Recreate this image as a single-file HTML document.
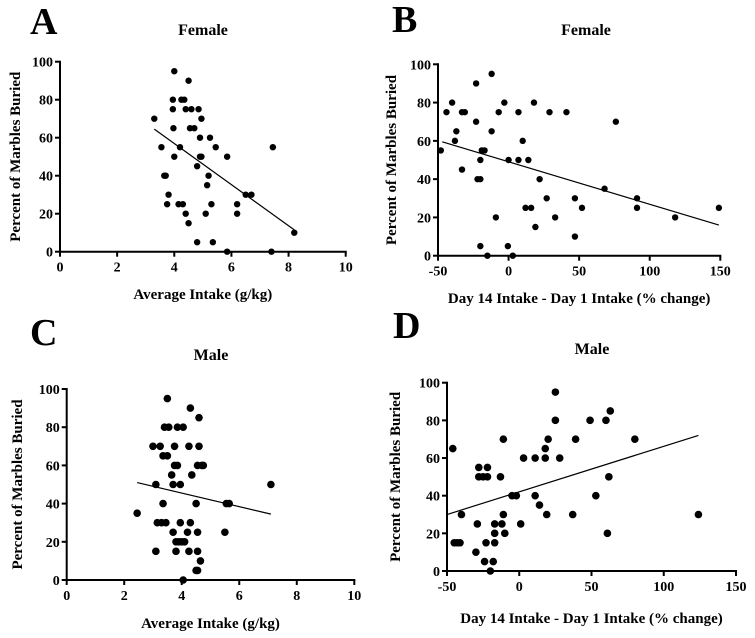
<!DOCTYPE html>
<html><head><meta charset="utf-8"><style>
body{margin:0;background:#fff;}
svg{display:block;font-family:"Liberation Serif",serif;font-weight:bold;}
</style></head><body>
<svg id="fig" width="755" height="638" viewBox="0 0 755 638" xmlns="http://www.w3.org/2000/svg"></svg>
<script>
const ticksA=[0,2,4,6,8,10], ticksB=[-50,0,50,100,150], ticksY=[0,20,40,60,80,100];
const ticksD=[-50,0,50,100,150];
const aX=[3.3,4.0,4.5,3.95,4.25,4.35,3.95,4.4,4.6,4.85,3.97,4.55,4.7,4.95,3.55,4.2,5.25,4.9,5.45,7.45,4.0,4.9,4.95,5.85,4.8,3.65,3.7,5.2,5.15,3.8,6.5,6.7,3.75,4.15,4.3,5.3,6.2,4.4,5.1,6.2,4.5,4.8,5.35,8.2,5.85,7.4];
const aY=[70,95,90,80,80,80,75,75,75,75,65,65,65,70,55,55,60,60,55,55,50,50,50,50,45,40,40,40,35,30,30,30,25,25,25,25,25,20,20,20,15,5,5,10,0,0];
const aFit=[[3.3,64.5],[8.2,11.5]];
const bX=[-48,-44,-40,-38,-37,-33,-31,-33,-23,-23,-22,-20,-20,-19,-17,-20,-15,-12,-12,-9,-7,-3,0,-0.5,3,7,7,10,12,14,16,18,19,22,27,29,33,41,47,47,52,68,76,91,91,118,149];
const bY=[55,75,80,60,65,75,75,45,90,70,40,40,50,55,55,5,0,95,65,20,75,80,50,5,0,75,50,60,25,50,25,80,15,40,30,75,20,75,30,10,25,35,70,30,25,20,25];
const bFit=[[-47,59.5],[149,16]];
const cX=[2.45,3.1,3.0,3.25,3.1,3.15,3.3,3.45,3.35,3.35,3.5,3.4,3.55,3.5,3.65,3.7,3.75,3.75,3.85,3.95,3.85,4.05,3.7,3.8,3.8,3.9,3.95,4.0,4.1,4.05,4.2,4.25,4.25,4.3,4.35,4.3,4.5,4.5,4.55,4.55,4.55,4.55,4.6,4.6,4.65,4.7,4.75,5.5,5.55,5.65,7.1];
const cY=[35,15,70,70,50,30,30,30,40,65,65,80,80,95,55,50,70,60,60,50,80,80,25,15,20,20,30,20,20,0,25,15,70,30,55,90,40,5,5,15,25,60,70,85,10,60,60,25,40,40,50];
const cFit=[[2.45,51],[7.1,34.5]];
const dX=[-46,-45,-43,-41,-40,-30,-29,-28,-28,-25,-24,-23,-22,-22,-20,-18,-17,-17,-17,-13,-12,-11,-11,-10,-5,-2,1,3,11,11,14,18,18,19,20,25,25,28,37,39,49,53,60,61,62,63,80,124];
const dY=[65,15,15,15,30,10,25,55,50,50,5,15,55,50,0,5,25,20,15,50,25,70,30,20,40,40,25,60,40,60,35,65,60,30,70,95,80,60,30,70,80,40,80,20,50,85,70,30];
const dFit=[[-50,30],[124,72]];

const NS="http://www.w3.org/2000/svg", svg=document.getElementById('fig');
function el(t,a,txt,parent){const e=document.createElementNS(NS,t);for(const k in a)e.setAttribute(k,a[k]);if(txt!==undefined)e.textContent=txt;(parent||svg).appendChild(e);return e;}
function panel(p){
  const g=el('g',{});
  
  
  const sx=v=>p.x0+(v-p.xmin)/(p.xmax-p.xmin)*(p.x1-p.x0);
  const sy=v=>p.y0-(v)/100*(p.y0-p.y1);
  let t=el('text',{x:p.lx,y:p.ly,'font-size':38,'text-anchor':'start'},p.id,g);
  
  t=el('text',{x:p.tx,y:p.ty,'font-size':16,'text-anchor':'middle'},p.title,g);
  
  let a=el('line',{x1:p.x0,y1:p.y0,x2:p.x1+1,y2:p.y0,stroke:'#000','stroke-width':2},undefined,g);
  
  a=el('line',{x1:p.x0,y1:p.y0+1,x2:p.x0,y2:p.y1-1,stroke:'#000','stroke-width':2},undefined,g);
  
  p.xt.forEach(v=>{const x=sx(v);
    el('line',{x1:x,y1:p.y0,x2:x,y2:p.y0+5,stroke:'#000','stroke-width':2},undefined,g);
    const l=el('text',{x:x,y:p.y0+20,'font-size':14,'text-anchor':'middle'},String(v),g);
    });
  ticksY.forEach(v=>{const y=sy(v);
    el('line',{x1:p.x0-5,y1:y,x2:p.x0,y2:y,stroke:'#000','stroke-width':2},undefined,g);
    const l=el('text',{x:p.x0-7,y:y+5,'font-size':14,'text-anchor':'end'},String(v),g);
    });
  t=el('text',{x:(p.x0+p.x1)/2,y:p.xly,'font-size':15,'text-anchor':'middle'},p.xlabel,g);
  
  const cy=(p.y0+p.y1)/2;
  t=el('text',{x:p.ylx,y:cy,'font-size':15,'text-anchor':'middle',transform:`rotate(-90 ${p.ylx} ${cy})`},'Percent of Marbles Buried',g);
  
  p.xs.forEach((v,i)=>{const c=el('circle',{cx:sx(v),cy:sy(p.ys[i]),r:p.r,fill:'#000'},undefined,g);
    });
  const f=el('line',{x1:sx(p.fit[0][0]),y1:sy(p.fit[0][1]),x2:sx(p.fit[1][0]),y2:sy(p.fit[1][1]),stroke:'#000','stroke-width':1.2},undefined,g);
  
}
panel({id:'A',title:'Female',xmin:0,xmax:10,x0:60,x1:345.7,y0:251.7,y1:61.7,xt:ticksA,xs:aX,ys:aY,fit:aFit,r:3.2,lx:30,ly:34,tx:203,ty:35,xly:299,ylx:20,xlabel:'Average Intake (g/kg)'});
panel({id:'B',title:'Female',xmin:-50,xmax:150,x0:438,x1:720.3,y0:255.7,y1:64.3,xt:ticksB,xs:bX,ys:bY,fit:bFit,r:3.2,lx:392,ly:32,tx:586,ty:35,xly:303,ylx:396,xlabel:'Day 14 Intake - Day 1 Intake (% change)'});
panel({id:'C',title:'Male',xmin:0,xmax:10,x0:66.7,x1:354.3,y0:580,y1:389,xt:ticksA,xs:cX,ys:cY,fit:cFit,r:3.8,lx:30,ly:345,tx:211,ty:360,xly:628,ylx:22,xlabel:'Average Intake (g/kg)'});
panel({id:'D',title:'Male',xmin:-50,xmax:150,x0:447,x1:736,y0:571,y1:382.7,xt:ticksD,xs:dX,ys:dY,fit:dFit,r:3.8,lx:393,ly:338,tx:592,ty:354,xly:623,ylx:400,xlabel:'Day 14 Intake - Day 1 Intake (% change)'});
</script>
</body></html>
